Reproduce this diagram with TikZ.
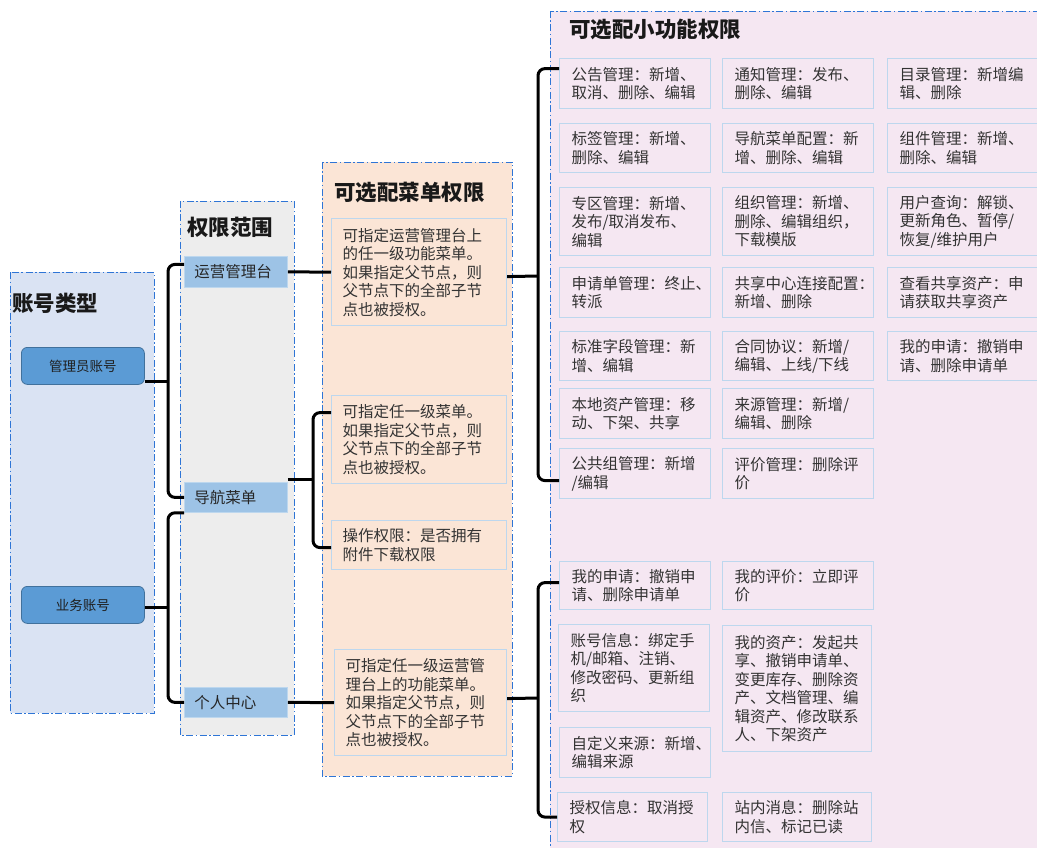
\documentclass[tikz,border=0pt]{standalone}
\usepackage{fontspec}
\newfontfamily\cjk{Noto Sans CJK SC}
\definecolor{gOne}{HTML}{DAE3F3}
\definecolor{gTwo}{HTML}{EDEDED}
\definecolor{gThree}{HTML}{FBE5D6}
\definecolor{gFour}{HTML}{F5E7F2}
\definecolor{dashblue}{HTML}{2E75D6}
\definecolor{lineblue}{HTML}{BDD7EE}
\definecolor{itemblue}{HTML}{9DC3E6}
\definecolor{accblue}{HTML}{5B9BD5}
\definecolor{accborder}{HTML}{41719C}
\definecolor{txtgray}{HTML}{333333}
\tikzset{
  grp/.style={draw=dashblue, line width=0.9pt, dash pattern=on 7pt off 2.5pt on 1.5pt off 2.5pt},
  ttl/.style={anchor=west, inner sep=0pt, font=\cjk\bfseries\fontsize{21.5}{24}\selectfont, text=black!90},
  sbox/.style={draw=lineblue, line width=1.2pt, anchor=north west, inner xsep=12pt, inner ysep=0pt,
    text width=127pt, align=left, font=\cjk\fontsize{15.5}{18.5}\selectfont, text=txtgray},
  mbox/.style={sbox, inner xsep=11pt, text width=153pt},
  item/.style={draw=lineblue, line width=0.8pt, fill=itemblue, anchor=north west, inner xsep=10pt, inner ysep=0pt,
    text width=83pt, align=left, minimum height=30pt, font=\cjk\fontsize{15.5}{18.5}\selectfont, text=black!85},
  acc/.style={draw=accborder, line width=0.8pt, fill=accblue, rounded corners=6pt, anchor=north west,
    minimum width=123pt, minimum height=37pt, inner sep=0pt, font=\cjk\fontsize{13.5}{16}\selectfont, text=black!88},
  conn/.style={line width=3pt, black},
  brk/.style={conn, rounded corners=7pt},
}
\begin{document}
\begin{tikzpicture}[x=1pt, y=-1pt]
\useasboundingbox (0,0) rectangle (1037,848);
\clip (0,0) rectangle (1037,848);
% groups
\filldraw[grp, fill=gOne] (10,272) rectangle (154,713);
\filldraw[grp, fill=gTwo] (180,201) rectangle (294,735);
\filldraw[grp, fill=gThree] (322,162) rectangle (512,776);
\filldraw[grp, fill=gFour] (550,11) rectangle (1080,880);
% titles
\node[ttl] (t1) at (12,303) {账号类型};
\node[ttl] (t2) at (187,227) {权限范围};
\node[ttl] (t3) at (334,193) {可选配菜单权限};
\node[ttl] (t4) at (569,29) {可选配小功能权限};
% account boxes
\node[acc] (adm) at (21,347) {管理员账号};
\node[acc] (biz) at (21,586) {业务账号};
% scope items
\node[item, minimum height=31pt] (yy) at (184,256) {运营管理台};
\node[item] (nav) at (184,482) {导航菜单};
\node[item] (pc) at (184,687) {个人中心};
% menu permission boxes
\node[mbox, minimum height=107pt] (bA) at (331,218) {可指定运营管理台上\\的任一级功能菜单。\\如果指定父节点，则\\父节点下的全部子节\\点也被授权。};
\node[mbox, minimum height=88pt] (bB) at (331,395) {可指定任一级菜单。\\如果指定父节点，则\\父节点下的全部子节\\点也被授权。};
\node[mbox, minimum height=49pt] (bC) at (331,520) {操作权限：是否拥有\\附件下载权限};
\node[mbox, text width=150pt, minimum height=106pt] (bD) at (334,649) {可指定任一级运营管\\理台上的功能菜单。\\如果指定父节点，则\\父节点下的全部子节\\点也被授权。};
% small function boxes, top group
\node[sbox, minimum height=50pt] (r1c1) at (559,58) {公告管理：新增、\\取消、删除、编辑};
\node[sbox, minimum height=50pt] (r1c2) at (722,58) {通知管理：发布、\\删除、编辑};
\node[sbox, minimum height=50pt] (r1c3) at (887,58) {目录管理：新增编\\辑、删除};
\node[sbox, minimum height=49pt] (r2c1) at (559,123) {标签管理：新增、\\删除、编辑};
\node[sbox, minimum height=49pt] (r2c2) at (722,123) {导航菜单配置：新\\增、删除、编辑};
\node[sbox, minimum height=49pt] (r2c3) at (887,123) {组件管理：新增、\\删除、编辑};
\node[sbox, minimum height=68pt] (r3c1) at (559,187) {专区管理：新增、\\发布/取消发布、\\编辑};
\node[sbox, minimum height=68pt] (r3c2) at (722,187) {组织管理：新增、\\删除、编辑组织，\\下载模版};
\node[sbox, minimum height=68pt] (r3c3) at (887,187) {用户查询：解锁、\\更新角色、暂停/\\恢复/维护用户};
\node[sbox, minimum height=50pt] (r4c1) at (559,267) {申请单管理：终止、\\转派};
\node[sbox, minimum height=50pt] (r4c2) at (722,267) {共享中心连接配置：\\新增、删除};
\node[sbox, minimum height=50pt] (r4c3) at (887,267) {查看共享资产：申\\请获取共享资产};
\node[sbox, minimum height=49pt] (r5c1) at (559,331) {标准字段管理：新\\增、编辑};
\node[sbox, minimum height=49pt] (r5c2) at (722,331) {合同协议：新增/\\编辑、上线/下线};
\node[sbox, minimum height=49pt] (r5c3) at (887,331) {我的申请：撤销申\\请、删除申请单};
\node[sbox, minimum height=50pt] (r6c1) at (559,388) {本地资产管理：移\\动、下架、共享};
\node[sbox, minimum height=50pt] (r6c2) at (722,388) {来源管理：新增/\\编辑、删除};
\node[sbox, minimum height=50pt] (r7c1) at (559,448) {公共组管理：新增\\/编辑};
\node[sbox, minimum height=50pt] (r7c2) at (722,448) {评价管理：删除评\\价};
% small function boxes, bottom group
\node[sbox, minimum height=48pt] (a1) at (559,561) {我的申请：撤销申\\请、删除申请单};
\node[sbox, minimum height=48pt] (a2) at (722,561) {我的评价：立即评\\价};
\node[sbox, minimum height=87pt] (b1) at (558,624) {账号信息：绑定手\\机/邮箱、注销、\\修改密码、更新组\\织};
\node[sbox, text width=125pt, minimum height=126pt] (b2) at (722,625) {我的资产：发起共\\享、撤销申请单、\\变更库存、删除资\\产、文档管理、编\\辑资产、修改联系\\人、下架资产};
\node[sbox, minimum height=50pt] (c1) at (559,727) {自定义来源：新增、\\编辑来源};
\node[sbox, text width=126pt, minimum height=49pt] (d1) at (557,792) {授权信息：取消授\\权};
\node[sbox, text width=125pt, minimum height=49pt] (d2) at (722,792) {站内消息：删除站\\内信、标记已读};
% connectors
\coordinate (k1) at (168,381);
\coordinate (k2) at (168,607);
\coordinate (k3) at (313,479);
\coordinate (k4) at (538,276);
\coordinate (k5) at (538,698);
\draw[conn] (k1 -| adm.east) -- (k1);
\draw[brk] ([yshift=7.5pt]yy.west) -| (k1) |- (nav.west);
\draw[conn] (k2 -| biz.east) -- (k2);
\draw[brk] (nav.south west) -| (k2) |- (pc.west);
\draw[conn] (yy.east) -- (bA.west);
\draw[conn] ([yshift=3pt]nav.north east) -- (k3);
\draw[brk] ([yshift=27pt]bB.west) -| (k3) |- ([yshift=-2.5pt]bC.west);
\draw[conn] (pc.east) -- (bD.west);
\draw[conn] ([yshift=-4.5pt]bA.east) -- (k4);
\draw[brk] ([yshift=15pt]r1c1.west) -| (k4) |- ([yshift=-7pt]r7c1.west);
\draw[conn] ([yshift=4pt]bD.east) -- (k5);
\draw[brk] ([yshift=3pt]a1.west) -| (k5) |- (d1.west);
\end{tikzpicture}
\end{document}
